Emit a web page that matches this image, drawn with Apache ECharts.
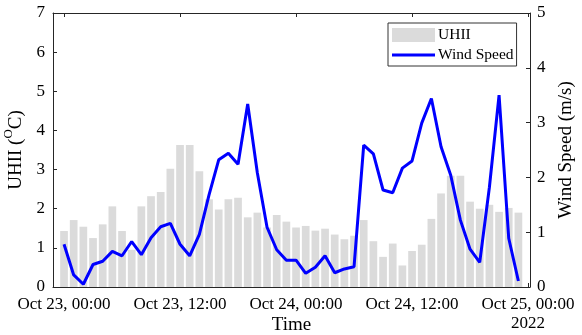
<!DOCTYPE html>
<html>
<head>
<meta charset="utf-8">
<script src="https://cdn.jsdelivr.net/npm/echarts@6/dist/echarts.min.js"></script>
<style>html,body{margin:0;padding:0;background:#fff}#c{width:582px;height:335px}</style>
</head>
<body>
<div id="c"></div>
<script>
// Hourly data, Oct 23 00:00 .. Oct 24 23:00
const uhii = [1.43,1.71,1.54,1.25,1.60,2.06,1.43,0.95,2.06,2.32,
              2.43,3.02,3.63,3.63,2.96,2.24,1.98,2.24,2.28,1.78,
              1.90,1.52,1.84,1.67,1.52,1.56,1.44,1.49,1.34,1.22,
              1.31,1.71,1.17,0.77,1.11,0.55,0.92,1.08,1.74,2.39,
              2.84,2.84,2.18,2.00,2.10,1.92,2.02,1.90];
const wind = [0.78,0.22,0.05,0.41,0.47,0.65,0.57,0.83,0.59,0.90,
              1.10,1.16,0.78,0.57,0.96,1.68,2.32,2.44,2.24,3.34,
              2.08,1.09,0.68,0.49,0.49,0.25,0.36,0.57,0.26,0.33,
              0.37,2.59,2.43,1.77,1.72,2.17,2.30,2.99,3.44,2.56,
              2.04,1.22,0.69,0.45,1.82,3.50,0.89,0.11];
const tickHours = [0, 12, 24, 36, 48];
const tickLabels = ['Oct 23, 00:00','Oct 23, 12:00','Oct 24, 00:00','Oct 24, 12:00','Oct 25, 00:00\n2022'];

const font = 'Liberation Serif';
const axisColor = '#262626';
const barData = uhii.map((v, i) => [i, v]);
const lineData = wind.map((v, i) => [i, v]);

const lineIcon = 'path://M0,0L0.01,0L0,0.01Z M0,14L0.01,14L0,13.99Z M0,5.5L43,5.5L43,8.5L0,8.5Z';

const chart = echarts.init(document.getElementById('c'));
chart.setOption({
  animation: false,
  grid: {left: 53, right: 52, top: 13, bottom: 48, outerBoundsMode: 'none', containLabel: false},
  legend: {
    left: 388, top: 23, orient: 'vertical',
    backgroundColor: '#fff', borderColor: '#333', borderWidth: 1,
    padding: [4, 3, 3, 4], itemGap: 4, itemWidth: 43, itemHeight: 14,
    textStyle: {fontFamily: font, fontSize: 15.5, color: '#000', padding: [0,0,0,-2]},
    data: [{name: 'UHII', icon: 'rect'},
           {name: 'Wind Speed', icon: lineIcon, itemStyle: {color: '#0000ff', borderWidth: 0}}]
  },
  xAxis: [{
    type: 'value', min: -1.14, max: 48.2,
    name: 'Time', nameLocation: 'middle', nameGap: 29, nameMoveOverlap: false,
    nameTextStyle: {fontFamily: font, fontSize: 19, color: '#000'},
    axisLine: {show: true, onZero: false, lineStyle: {color: axisColor, width: 1}},
    axisTick: {show: true, inside: true, length: 4, customValues: tickHours, lineStyle: {color: axisColor}},
    axisLabel: {customValues: tickHours, margin: 8, lineHeight: 19,
      fontFamily: font, fontSize: 17, color: '#000',
      formatter: v => tickLabels[tickHours.indexOf(Math.round(v))] || ''},
    splitLine: {show: false}
  }, {
    type: 'value', min: -1.14, max: 48.2, position: 'top',
    axisLine: {show: true, onZero: false, lineStyle: {color: axisColor, width: 1}},
    axisTick: {show: true, inside: true, length: 4, customValues: tickHours, lineStyle: {color: axisColor}},
    axisLabel: {show: false}, splitLine: {show: false}
  }],
  yAxis: [{
    type: 'value', min: 0, max: 7, interval: 1, position: 'left',
    name: '{a|UHII (}{s|O}{a|C)}', nameLocation: 'middle', nameGap: 22, nameRotate: 90,
    nameTextStyle: {rich: {
      a: {fontFamily: font, fontSize: 19, color: '#000', lineHeight: 24, verticalAlign: 'bottom'},
      s: {fontFamily: font, fontSize: 13, color: '#000', lineHeight: 24, verticalAlign: 'top'}
    }},
    axisLine: {show: true, onZero: false, lineStyle: {color: axisColor, width: 1}},
    axisTick: {show: true, inside: true, length: 4, lineStyle: {color: axisColor}},
    axisLabel: {margin: 8, fontFamily: font, fontSize: 17, color: '#000'},
    splitLine: {show: false}
  }, {
    type: 'value', min: 0, max: 5, interval: 1, position: 'right',
    name: 'Wind Speed (m/s)', nameLocation: 'middle', nameGap: 27, nameRotate: 90,
    nameTextStyle: {fontFamily: font, fontSize: 19, color: '#000'},
    axisLine: {show: true, onZero: false, lineStyle: {color: axisColor, width: 1}},
    axisTick: {show: true, inside: true, length: 4, lineStyle: {color: axisColor}},
    axisLabel: {margin: 7, fontFamily: font, fontSize: 17, color: '#000'},
    splitLine: {show: false}
  }],
  series: [{
    name: 'UHII', type: 'bar', xAxisIndex: 0, yAxisIndex: 0,
    data: barData, barWidth: 7.7,
    itemStyle: {color: '#dbdbdb'}, z: 1
  }, {
    name: 'Wind Speed', type: 'line', xAxisIndex: 0, yAxisIndex: 1,
    data: lineData, symbol: 'none', smooth: false,
    lineStyle: {color: '#0000ff', width: 3}, itemStyle: {color: '#0000ff'}, z: 3
  }]
});
</script>
</body>
</html>
